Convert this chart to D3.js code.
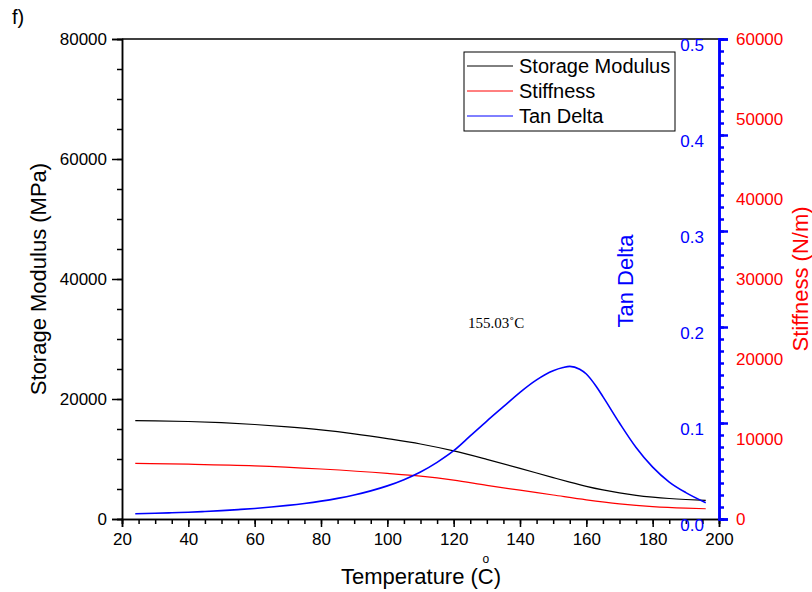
<!DOCTYPE html>
<html>
<head>
<meta charset="utf-8">
<script src="https://cdn.jsdelivr.net/npm/d3@7"></script>
<style>
  body { margin: 0; background: #fff; }
  svg { display: block; font-family: "Liberation Sans", Arial, sans-serif; }
</style>
</head>
<body>
<svg id="chart" width="812" height="592"></svg>
<script>
// Temperature sweep (°C)
const storageTemp = [24, 30, 40, 50, 60, 70, 80, 90, 100, 110, 120, 130, 140, 150, 155, 160, 165, 170, 175, 180, 185, 190, 196];
// Storage modulus (MPa)
const storageModulus = [16400, 16350, 16250, 16050, 15750, 15350, 14850, 14200, 13400, 12500, 11350, 9950, 8450, 6900, 6150, 5450, 4850, 4350, 3950, 3650, 3420, 3250, 3100];

const stiffnessTemp = [24, 40, 60, 80, 100, 110, 120, 130, 140, 150, 160, 170, 180, 190, 196];
// Stiffness (N/m)
const stiffness = [6950, 6850, 6650, 6250, 5700, 5350, 4850, 4200, 3600, 3000, 2400, 1900, 1550, 1350, 1280];

const tanTemp = [24, 30, 35, 40, 45, 50, 55, 60, 65, 70, 75, 80, 85, 90, 95, 100, 105, 110, 115, 120, 125, 130, 135, 140, 145, 150, 153, 155.03, 158, 160, 163, 165, 170, 175, 180, 185, 190, 196];
const tanDelta = [0.0055, 0.0060, 0.0065, 0.0070, 0.0078, 0.0087, 0.0098, 0.0110, 0.0125, 0.0142, 0.0162, 0.0186, 0.0215, 0.0250, 0.0293, 0.0345, 0.0410, 0.0490, 0.0590, 0.0711, 0.0865, 0.1020, 0.1170, 0.1320, 0.1450, 0.1545, 0.1578, 0.1590, 0.1560, 0.1510, 0.1380, 0.1275, 0.1000, 0.0745, 0.0540, 0.0385, 0.0275, 0.0170];

const peakTemp = 155.03;

const xTicks = [20, 40, 60, 80, 100, 120, 140, 160, 180, 200];
const leftTicks = [0, 20000, 40000, 60000, 80000];
const tanTicks = [0.0, 0.1, 0.2, 0.3, 0.4, 0.5];
const stiffTicks = [0, 10000, 20000, 30000, 40000, 50000, 60000];

const legendNames = ["Storage Modulus", "Stiffness", "Tan Delta"];
const legendColors = ["#000000", "#ff0000", "#0000ff"];

const L = 122, R = 719, T = 39, B = 519;
const svg = d3.select("#chart");

const x = d3.scaleLinear().domain([20, 200]).range([L, R]);
const yL = d3.scaleLinear().domain([0, 80000]).range([B, T]);
const yTan = d3.scaleLinear().domain([0, 0.5]).range([B, T]);
const yStiff = d3.scaleLinear().domain([0, 60000]).range([B, T]);

// top frame line
svg.append("line").attr("x1", L).attr("x2", R).attr("y1", T).attr("y2", T)
  .attr("stroke", "#000").attr("stroke-width", 1.5);

// curves
function drawCurve(xs, ys, yScale, color, width) {
  const pts = xs.map((t, i) => [t, ys[i]]);
  const line = d3.line().x(d => x(d[0])).y(d => yScale(d[1])).curve(d3.curveMonotoneX);
  svg.append("path").datum(pts).attr("d", line)
    .attr("fill", "none").attr("stroke", color).attr("stroke-width", width);
}
drawCurve(storageTemp, storageModulus, yL, "#000000", 1.2);
drawCurve(stiffnessTemp, stiffness, yStiff, "#ff0000", 1.2);
drawCurve(tanTemp, tanDelta, yTan, "#0000ff", 1.6);

function styleAxis(g, color, width) {
  g.select(".domain").attr("stroke", color).attr("stroke-width", width);
  g.selectAll(".tick line").attr("stroke", color).attr("stroke-width", width);
}

// bottom axis
const gxMinor = svg.append("g").attr("transform", `translate(0,${B})`)
  .call(d3.axisBottom(x).tickValues(d3.range(20, 201, 5)).tickSize(5).tickFormat(""));
styleAxis(gxMinor, "#000", 1.5);
const gx = svg.append("g").attr("transform", `translate(0,${B})`)
  .call(d3.axisBottom(x).tickValues(xTicks).tickSize(8).tickPadding(6).tickFormat(d3.format("d")));
styleAxis(gx, "#000", 1.5);
gx.selectAll("text").attr("font-size", 17).attr("fill", "#000")
  .attr("font-family", "Liberation Sans, Arial, sans-serif");

// left axis
const gyMinor = svg.append("g").attr("transform", `translate(${L},0)`)
  .call(d3.axisLeft(yL).tickValues(d3.range(0, 80001, 5000)).tickSize(5).tickFormat(""));
styleAxis(gyMinor, "#000", 1.5);
const gy = svg.append("g").attr("transform", `translate(${L},0)`)
  .call(d3.axisLeft(yL).tickValues(leftTicks).tickSize(10).tickPadding(5).tickFormat(d3.format("d")));
styleAxis(gy, "#000", 1.5);
gy.selectAll("text").attr("font-size", 17).attr("fill", "#000")
  .attr("font-family", "Liberation Sans, Arial, sans-serif");

// right tan delta axis (blue), labels placed inside the frame
const tanMinor = [];
for (let i = 0; i <= 40; i++) tanMinor.push(i * 0.0125);
const gtMinor = svg.append("g").attr("transform", `translate(${R},0)`)
  .call(d3.axisRight(yTan).tickValues(tanMinor).tickSize(5).tickFormat(""));
styleAxis(gtMinor, "#0000ff", 2.5);
const gt = svg.append("g").attr("transform", `translate(${R},0)`)
  .call(d3.axisRight(yTan).tickValues(tanTicks).tickSize(9).tickFormat(""));
styleAxis(gt, "#0000ff", 2.5);
svg.append("g").selectAll("text").data(tanTicks).join("text")
  .attr("x", 704).attr("y", d => yTan(d) + 6).attr("dy", "0.35em")
  .attr("text-anchor", "end").attr("font-size", 17).attr("fill", "#0000ff")
  .text(d => d3.format(".1f")(d));

// stiffness labels (red), right of the blue axis
svg.append("g").selectAll("text").data(stiffTicks).join("text")
  .attr("x", 736).attr("y", d => yStiff(d)).attr("dy", "0.35em")
  .attr("text-anchor", "start").attr("font-size", 17).attr("fill", "#ff0000")
  .text(d => d3.format("d")(d));

// axis titles
svg.append("text").attr("transform", "translate(46,279) rotate(-90)")
  .attr("text-anchor", "middle").attr("font-size", 22).attr("fill", "#000")
  .text("Storage Modulus (MPa)");
svg.append("text").attr("transform", "translate(633,281) rotate(-90)")
  .attr("text-anchor", "middle").attr("font-size", 22).attr("fill", "#0000ff")
  .text("Tan Delta");
svg.append("text").attr("transform", "translate(808,279) rotate(-90)")
  .attr("text-anchor", "middle").attr("font-size", 22).attr("fill", "#ff0000")
  .text("Stiffness (N/m)");

const xTitle = svg.append("text").attr("x", 421).attr("y", 584)
  .attr("text-anchor", "middle").attr("font-size", 22).attr("fill", "#000")
  .text("Temperature (C)");
// raised degree ring above the C
const node = xTitle.node();
const cStart = node.getStartPositionOfChar(13).x;
const cEnd = node.getEndPositionOfChar(13).x;
svg.append("text").attr("x", (cStart + cEnd) / 2).attr("y", 563)
  .attr("text-anchor", "middle").attr("font-size", 12).attr("fill", "#000")
  .text("o");

// panel tag
svg.append("text").attr("x", 12).attr("y", 24).attr("font-size", 20).attr("fill", "#000").text("f)");

// peak annotation
svg.append("text").attr("x", 468).attr("y", 328)
  .attr("font-family", "Liberation Serif, Times New Roman, serif")
  .attr("font-size", 15).attr("fill", "#000")
  .text(d3.format(".2f")(peakTemp) + "˚C");

// legend
const lg = svg.append("g");
lg.append("rect").attr("x", 464).attr("y", 52).attr("width", 211).attr("height", 79)
  .attr("fill", "#fff").attr("stroke", "#000").attr("stroke-width", 1);
legendNames.forEach((name, i) => {
  const yy = 66 + i * 25;
  lg.append("line").attr("x1", 467).attr("x2", 513).attr("y1", yy).attr("y2", yy)
    .attr("stroke", legendColors[i]).attr("stroke-width", 1);
  lg.append("text").attr("x", 519).attr("y", yy).attr("dy", "0.35em")
    .attr("font-size", 20).attr("fill", "#000").text(name);
});
</script>
</body>
</html>
